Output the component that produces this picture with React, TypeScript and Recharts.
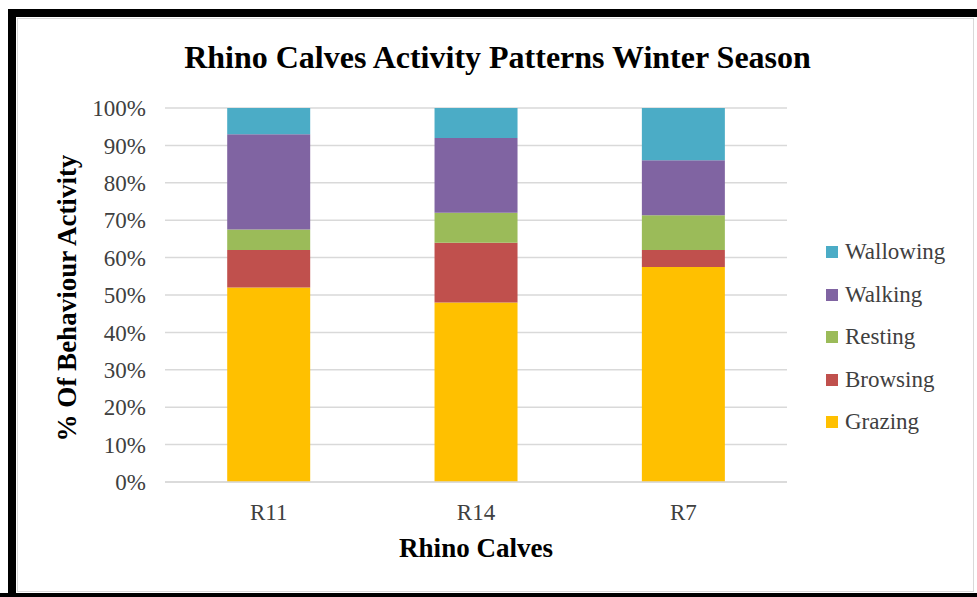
import { BarChart, Bar, XAxis, YAxis, CartesianGrid, Legend } from 'recharts'

// Share of observed time per behaviour (%), one value per calf
const calves = ['R11', 'R14', 'R7']
const grazing = [52, 48, 57.5]
const browsing = [10, 16, 4.5]
const resting = [5.5, 8, 9.3]
const walking = [25.5, 20, 14.7]
const wallowing = [7, 8, 14]
const yTicks = [0, 10, 20, 30, 40, 50, 60, 70, 80, 90, 100]

const series = [
  { key: 'Grazing', values: grazing, color: '#FFC000' },
  { key: 'Browsing', values: browsing, color: '#C0504D' },
  { key: 'Resting', values: resting, color: '#9BBB59' },
  { key: 'Walking', values: walking, color: '#8064A2' },
  { key: 'Wallowing', values: wallowing, color: '#4BACC6' },
]

const data = calves.map((name, i) => {
  const row: Record<string, string | number> = { name }
  for (const s of series) row[s.key] = s.values[i]
  return row
})

const FONT = '"Liberation Serif", "Times New Roman", serif'
const TICK = { fill: '#404040', fontSize: 23, fontFamily: FONT }

// Excel-style legend: top entry is the top of the stack
function StackLegend() {
  return (
    <ul style={{ listStyle: 'none', margin: 0, padding: 0, fontFamily: FONT, fontSize: 23, color: '#404040' }}>
      {[...series].reverse().map((s) => (
        <li key={s.key} style={{ height: 42.5, display: 'flex', alignItems: 'center' }}>
          <span style={{ width: 12, height: 12, background: s.color, marginRight: 7, display: 'inline-block' }} />
          {s.key}
        </li>
      ))}
    </ul>
  )
}

export default function App() {
  return (
    <div style={{ position: 'fixed', left: 0, top: 0, width: 977, height: 597, overflow: 'hidden', background: '#fff' }}>
      <div style={{ position: 'absolute', left: 8, top: 9, width: 980, height: 600, boxSizing: 'border-box', borderTop: '8px solid #000', borderLeft: '8px solid #000' }} />
      <div style={{ position: 'absolute', left: 0, top: 593, width: 977, height: 8, background: '#000' }} />
      <div style={{ position: 'absolute', left: 17, top: 18, width: 957, height: 574, boxSizing: 'border-box', border: '1px solid #d9d9d9' }} />

      <BarChart
        width={977}
        height={597}
        data={data}
        margin={{ top: 108, right: 190, bottom: 85, left: 105 }}
        barCategoryGap="30%"
        style={{ position: 'absolute', left: 0, top: 0 }}
      >
        <CartesianGrid stroke="#d9d9d9" strokeWidth={1.5} vertical={false} />
        <XAxis dataKey="name" height={30} tick={TICK} tickSize={0} tickMargin={22} axisLine={{ stroke: '#d9d9d9', strokeWidth: 1.5 }} tickLine={false} />
        <YAxis width={60} domain={[0, 100]} ticks={yTicks} tickFormatter={(v) => `${v}%`} tick={TICK} tickSize={0} tickMargin={19} axisLine={false} tickLine={false} />
        {series.map((s) => (
          <Bar key={s.key} dataKey={s.key} stackId="a" fill={s.color} isAnimationActive={false} />
        ))}
        <Legend layout="vertical" align="center" verticalAlign="middle" content={<StackLegend />} wrapperStyle={{ left: 826, top: 231, width: 150 }} />
      </BarChart>

      <div style={{ position: 'absolute', left: 0, top: 41, width: 995, textAlign: 'center', fontFamily: FONT, fontWeight: 'bold', fontSize: 32, lineHeight: '32px', color: '#000' }}>
        Rhino Calves Activity Patterns Winter Season
      </div>
      <div style={{ position: 'absolute', left: 0, top: 535, width: 952, textAlign: 'center', fontFamily: FONT, fontWeight: 'bold', fontSize: 27, lineHeight: '27px', color: '#000' }}>
        Rhino Calves
      </div>
      <div style={{ position: 'absolute', left: 67, top: 298, transform: 'translate(-50%, -50%) rotate(-90deg)', whiteSpace: 'nowrap', fontFamily: FONT, fontWeight: 'bold', fontSize: 27, lineHeight: '27px', color: '#000' }}>
        % Of Behaviour Activity
      </div>
    </div>
  )
}
